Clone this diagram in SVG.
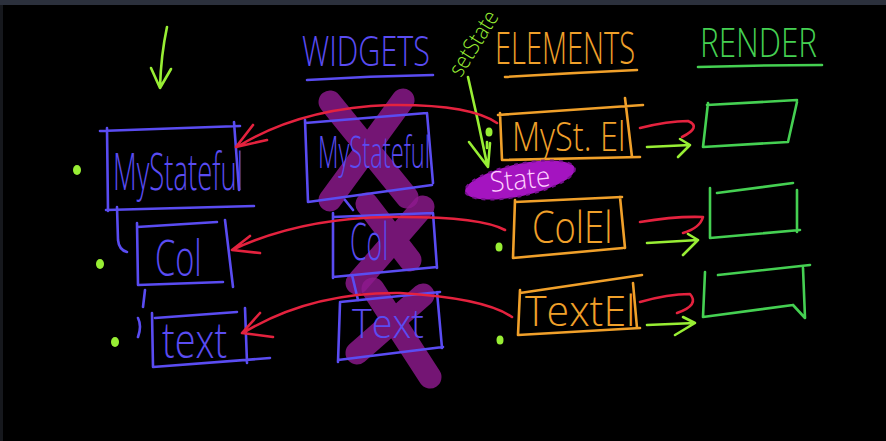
<svg xmlns="http://www.w3.org/2000/svg" width="886" height="441" viewBox="0 0 886 441">
<defs>
<style>
.s{fill:none;stroke-width:2.6;stroke-linecap:round;stroke-linejoin:round}
.bl{stroke:#5a4cf2}
.or{stroke:#f0a02a}
.gr{stroke:#45d052}
.lg{stroke:#98ee34}
.rd{stroke:#e4223e}
.xx{fill:none;stroke:#8e1a8e;stroke-width:23;stroke-linecap:round;opacity:.82}
.t{font-family:"Open Sans","DejaVu Sans",sans-serif;font-weight:300}
.tb{fill:#5a4cf2}
.to{fill:#f0a02a}
.tg{fill:#45d052}
.tl{fill:#98ee34}
.dot{fill:#98ee34}
</style>
</defs>
<rect width="886" height="441" fill="#000"/>
<rect width="886" height="5" fill="#2b303c"/>
<rect y="5" width="3" height="436" fill="#16181d"/>

<g id="header-widgets">
<text class="t tb" transform="translate(302,66) scale(0.71,1)" font-size="42" textLength="180" lengthAdjust="spacingAndGlyphs">WIDGETS</text>
<path class="s bl" d="M307 80 Q370 76 433 75"/>
</g>
<g id="header-elements">
<text class="t to" transform="translate(495,64) scale(0.645,1)" font-size="44" textLength="217" lengthAdjust="spacingAndGlyphs">ELEMENTS</text>
<path class="s or" d="M505 77 Q570 73 637 70"/>
</g>
<g id="header-render">
<text class="t tg" transform="translate(700,57) scale(0.775,1)" font-size="40" textLength="151" lengthAdjust="spacingAndGlyphs">RENDER</text>
<path class="s gr" d="M698 67 Q760 65 822 65"/>
</g>
<g id="setstate-label">
<text class="t tl" transform="translate(461,78) rotate(-58) scale(0.86,1)" font-size="23" textLength="84" lengthAdjust="spacingAndGlyphs">setState</text>
</g>
<g id="top-arrow">
<path class="s lg" d="M167 27 Q161 55 160 87 M151 68 L160 88 L171 69"/>
</g>

<g id="crosses">
<path class="xx" d="M330 102 L407 197 M403 100 L330 200"/>
<path class="xx" d="M367 204 L410 260 M423 207 L357 283"/>
<path class="xx" d="M373 289 L430 377 M423 295 L357 353"/>
</g>

<g id="left-mystateful">
<path class="s bl" d="M100 131 L240 126 M107 128 L108 211 M106 210 L254 206 M234 122 L239 190"/>
<text class="t tb" transform="translate(113,190) scale(0.5,1)" font-size="52" textLength="260" lengthAdjust="spacingAndGlyphs">MyStateful</text>
<ellipse class="dot" cx="77" cy="170" rx="4" ry="5"/>
</g>
<g id="left-col">
<path class="s bl" d="M137 227 L217 222 M137 223 L138 285 M138 285 L223 282 M225 220 L233 287"/>
<text class="t tb" transform="translate(155,276) scale(0.64,1)" font-size="50" textLength="73" lengthAdjust="spacingAndGlyphs">Col</text>
<ellipse class="dot" cx="100" cy="264" rx="4" ry="5"/>
</g>
<g id="left-text">
<path class="s bl" d="M155 318 L237 312 M152 313 L153 367 M153 367 L270 358 M245 308 L247 363"/>
<text class="t tb" transform="translate(162,358) scale(0.74,1)" font-size="50" textLength="88" lengthAdjust="spacingAndGlyphs">text</text>
<ellipse class="dot" cx="115" cy="342" rx="4" ry="5"/>
</g>

<g id="widget-mystateful">
<path class="s bl" d="M305 123 L427 113 M305 120 L308 202 M308 202 L432 185 M427 113 L433 183"/>
<text class="t tb" transform="translate(318,168) scale(0.51,1)" font-size="44" textLength="220" lengthAdjust="spacingAndGlyphs">MyStateful</text>
</g>
<g id="widget-col">
<path class="s bl" d="M333 217 L433 213 M333 213 L333 278 M333 277 L437 267 M433 213 L437 268"/>
<text class="t tb" transform="translate(350,260) scale(0.49,1)" font-size="52" textLength="78" lengthAdjust="spacingAndGlyphs">Col</text>
</g>
<g id="widget-text">
<path class="s bl" d="M340 302 L440 292 M340 303 L338 362 M338 360 L443 347 M437 292 L442 348"/>
<text class="t tb" transform="translate(352,338) scale(0.91,1)" font-size="40" textLength="79" lengthAdjust="spacingAndGlyphs">Text</text>
</g>

<g id="el-myst">
<path class="s or" d="M498 115 L643 105 M500 113 L502 160 M502 160 L640 157 M625 98 L632 157"/>
<text class="t to" transform="translate(512,151) scale(0.76,1)" font-size="41" textLength="149" lengthAdjust="spacingAndGlyphs">MySt. El</text>
<ellipse class="dot" cx="489" cy="132" rx="3.5" ry="4.5"/>
<path class="s lg" d="M487 142 L487 148"/>
</g>
<g id="el-col">
<path class="s or" d="M515 202 L622 197 M515 200 L513 258 M513 258 L623 248 M620 197 L625 248"/>
<text class="t to" transform="translate(532,243) scale(0.78,1)" font-size="45" textLength="103" lengthAdjust="spacingAndGlyphs">ColEl</text>
<ellipse class="dot" cx="499" cy="247" rx="3.5" ry="4.5"/>
</g>
<g id="el-text">
<path class="s or" d="M520 293 L642 275 M520 290 L518 335 M518 335 L640 328 M633 283 L637 328"/>
<text class="t to" transform="translate(525,326) scale(0.92,1)" font-size="43" textLength="120" lengthAdjust="spacingAndGlyphs">TextEl</text>
<ellipse class="dot" cx="500" cy="340" rx="3.5" ry="4.5"/>
</g>

<g id="state">
<ellipse cx="520" cy="180" rx="56" ry="16" transform="rotate(-12 520 180)" fill="#a414c0" stroke="#76108e" stroke-width="2" stroke-dasharray="4 5"/>
<text class="t" transform="rotate(-6 520 180) translate(490,189) scale(0.9,1)" font-size="28" textLength="67" lengthAdjust="spacingAndGlyphs" fill="#ffd0ff">State</text>
</g>

<g id="render-1">
<path class="s gr" d="M707 105 L797 100 M708 103 L703 147 M703 147 L788 142 M797 102 L788 142"/>
</g>
<g id="render-2">
<path class="s gr" d="M717 193 L793 183 M710 188 L710 238 M710 238 L800 230 M797 190 L797 232"/>
</g>
<g id="render-3">
<path class="s gr" d="M718 275 L810 265 M705 272 L703 317 M703 317 L793 305 M803 268 L805 318 L793 305"/>
</g>

<g id="connectors">
<path class="s bl" d="M117 207 L118 240 Q119 250 127 252 M145 290 L143 307 M138 318 Q142 326 138 337"/>
<path class="s bl" d="M345 200 L353 210 M352 275 L358 300" stroke-width="1.6"/>
<path class="s lg" d="M468 77 Q478 120 487 164 M469 142 L488 167 L490 143"/>
<path class="s rd" d="M497 123 Q470 104 390 105 Q300 108 237 147 M253 125 L236 147 L267 140"/>
<path class="s rd" d="M505 230 Q480 216 390 217 Q300 218 232 250 M250 236 L232 250 L260 253"/>
<path class="s rd" d="M512 317 Q485 298 400 293 Q310 292 243 333 M260 313 L242 333 L273 337"/>
<path class="s rd" d="M640 128 Q668 121 688 121 Q702 127 682 137"/>
<path class="s lg" d="M647 147 L690 145 M680 139 L690 145 L678 157"/>
<path class="s rd" d="M640 222 Q675 216 703 217 Q700 228 683 233"/>
<path class="s lg" d="M647 243 L698 240 M688 234 L698 240 L683 255"/>
<path class="s rd" d="M640 302 Q668 294 690 294 Q700 305 677 313"/>
<path class="s lg" d="M647 325 L695 323 M683 317 L695 323 L675 335"/>
</g>
</svg>
